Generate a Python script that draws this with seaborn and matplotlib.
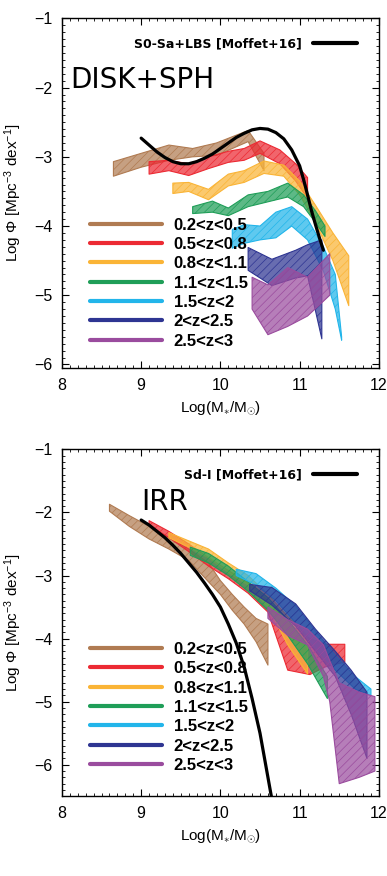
import matplotlib
matplotlib.use("Agg")
import matplotlib.pyplot as plt
from matplotlib.lines import Line2D
from matplotlib.ticker import MultipleLocator
from matplotlib.colors import to_rgba
import seaborn as sns
import pandas as pd

# Redshift bins and their colours
z_labels = ["0.2<z<0.5", "0.5<z<0.8", "0.8<z<1.1", "1.1<z<1.5",
            "1.5<z<2", "2<z<2.5", "2.5<z<3"]
z_colors = ["#b07b52", "#ec2a33", "#fab436", "#1f9e58",
            "#22b5ea", "#2e3592", "#9a4c9e"]

# ---- DISK+SPH panel: mass function bands (log M, lower, upper) ----
disk_m = [
    [8.65, 9.0, 9.35, 9.65, 9.95, 10.35, 10.55],
    [9.1, 9.35, 9.6, 9.85, 10.1, 10.3, 10.5, 10.75, 10.95, 11.1],
    [9.4, 9.6, 9.85, 10.1, 10.3, 10.55, 10.8, 11.0, 11.2, 11.42, 11.62],
    [9.65, 9.9, 10.1, 10.35, 10.6, 10.85, 11.05, 11.2, 11.32],
    [10.15, 10.3, 10.5, 10.7, 10.9, 11.1, 11.3, 11.45, 11.53],
    [10.35, 10.65, 10.95, 11.1, 11.28],
    [10.4, 10.6, 10.85, 11.1, 11.38],
]
disk_lo = [
    [-3.28, -3.15, -3.05, -3.0, -2.98, -2.78, -3.2],
    [-3.25, -3.2, -3.27, -3.17, -3.08, -3.05, -2.95, -3.1, -3.35, -3.6],
    [-3.53, -3.5, -3.62, -3.42, -3.37, -3.24, -3.28, -3.55, -3.95, -4.5, -5.15],
    [-3.82, -3.8, -3.85, -3.72, -3.65, -3.58, -3.72, -3.95, -4.15],
    [-4.32, -4.25, -4.2, -4.17, -4.0, -4.2, -4.65, -5.2, -5.65],
    [-4.64, -4.86, -4.75, -4.72, -5.63],
    [-5.2, -5.57, -5.45, -5.3, -5.0],
]
disk_hi = [
    [-3.07, -2.95, -2.83, -2.88, -2.8, -2.62, -2.95],
    [-3.07, -3.05, -3.1, -3.0, -2.92, -2.88, -2.77, -2.9, -3.1, -3.3],
    [-3.38, -3.37, -3.47, -3.25, -3.2, -3.06, -3.12, -3.35, -3.7, -4.1, -4.43],
    [-3.72, -3.64, -3.74, -3.55, -3.5, -3.38, -3.55, -3.78, -4.0],
    [-4.05, -3.98, -4.0, -3.8, -3.72, -3.9, -4.3, -4.7, -5.6],
    [-4.31, -4.48, -4.35, -4.27, -4.2],
    [-4.74, -4.85, -4.6, -4.74, -4.4],
]
# Moffet+16 S0-Sa+LBS curve
disk_ref_m = [9.0, 9.1, 9.2, 9.3, 9.4, 9.5, 9.6, 9.7, 9.8, 9.9, 10.0, 10.1,
              10.2, 10.3, 10.4, 10.5, 10.6, 10.7, 10.8, 10.9, 11.0, 11.05,
              11.1, 11.15, 11.2, 11.25, 11.3]
disk_ref_phi = [-2.73, -2.83, -2.93, -3.01, -3.07, -3.1, -3.1, -3.07, -3.02,
                -2.96, -2.88, -2.8, -2.72, -2.66, -2.61, -2.59, -2.6, -2.65,
                -2.74, -2.9, -3.13, -3.33, -3.55, -3.78, -3.98, -4.17, -4.35]

# ---- IRR panel ----
irr_m = [
    [8.6, 8.85, 9.1, 9.35, 9.6, 9.85, 10.0, 10.15, 10.3, 10.45, 10.6],
    [9.1, 9.35, 9.6, 9.85, 10.1, 10.35, 10.6, 10.85, 11.13, 11.32, 11.57],
    [9.35, 9.6, 9.85, 10.1, 10.35, 10.6, 10.85, 11.1],
    [9.62, 9.85, 10.1, 10.35, 10.6, 10.85, 11.1, 11.35],
    [10.2, 10.45, 10.7, 10.95, 11.2, 11.45, 11.7, 11.9],
    [10.37, 10.65, 10.95, 11.2, 11.45, 11.65, 11.85],
    [10.6, 10.85, 11.1, 11.3, 11.38, 11.5, 11.75, 11.95],
]
irr_lo = [
    [-1.98, -2.22, -2.42, -2.58, -2.76, -3.1, -3.3, -3.55, -3.77, -4.05, -4.42],
    [-2.2, -2.4, -2.62, -2.85, -3.05, -3.28, -3.58, -4.5, -4.57, -4.45, -4.37],
    [-2.4, -2.55, -2.72, -2.95, -3.15, -3.5, -4.1, -4.56],
    [-2.68, -2.8, -3.0, -3.25, -3.55, -3.95, -4.4, -4.95],
    [-3.0, -3.15, -3.4, -3.75, -4.15, -4.5, -4.8, -4.9],
    [-3.24, -3.47, -3.8, -4.2, -4.6, -5.2, -5.9],
    [-3.68, -3.95, -4.1, -4.6, -5.0, -6.3, -6.2, -6.1],
]
irr_hi = [
    [-1.87, -2.05, -2.22, -2.4, -2.58, -2.8, -3.08, -3.3, -3.5, -3.68, -3.77],
    [-2.13, -2.3, -2.5, -2.72, -2.92, -3.12, -3.4, -3.75, -4.0, -4.09, -4.09],
    [-2.32, -2.45, -2.58, -2.8, -3.0, -3.3, -3.65, -3.95],
    [-2.55, -2.65, -2.85, -3.1, -3.35, -3.7, -4.1, -4.6],
    [-2.9, -2.97, -3.2, -3.48, -3.88, -4.26, -4.6, -4.8],
    [-3.14, -3.19, -3.45, -3.85, -4.2, -4.5, -4.85],
    [-3.5, -3.7, -3.85, -4.1, -4.35, -4.7, -4.85, -4.92],
]
# Moffet+16 Sd-I curve
irr_ref_m = [9.0, 9.1, 9.2, 9.3, 9.4, 9.5, 9.6, 9.7, 9.8, 9.9, 10.0, 10.1,
             10.2, 10.3, 10.4, 10.5, 10.6, 10.65]
irr_ref_phi = [-2.12, -2.2, -2.3, -2.4, -2.52, -2.65, -2.8, -2.95, -3.12,
               -3.3, -3.5, -3.77, -4.07, -4.45, -4.95, -5.5, -6.2, -6.55]

sns.set_style("ticks")
plt.rcParams["font.family"] = ["Liberation Sans", "DejaVu Sans"]
plt.rcParams["hatch.linewidth"] = 0.5
plt.rcParams["mathtext.fontset"] = "custom"
plt.rcParams["mathtext.rm"] = "Liberation Sans"
plt.rcParams["mathtext.it"] = "Liberation Sans"
for key in ["text.color", "axes.labelcolor", "xtick.color", "ytick.color"]:
    plt.rcParams[key] = "black"


def draw_panel(ax, ms, los, his, ref_m, ref_phi, ref_label, title, title_xy,
               ylim, leg_top):
    # shaded bands, one per redshift bin
    for m, lo, hi, col in zip(ms, los, his, z_colors):
        ax.fill_between(m, lo, hi, facecolor=to_rgba(col, 0.72),
                        edgecolor=to_rgba(col, 1.0), hatch="////", linewidth=0.8)
    ref = pd.DataFrame({"m": ref_m, "phi": ref_phi})
    sns.lineplot(data=ref, x="m", y="phi", ax=ax, color="black", lw=2.3,
                 label=ref_label, zorder=5)
    ax.set_xlim(8, 12)
    ax.set_ylim(*ylim)
    ax.xaxis.set_major_locator(MultipleLocator(1))
    ax.xaxis.set_minor_locator(MultipleLocator(0.1))
    ax.yaxis.set_major_locator(MultipleLocator(1))
    ax.yaxis.set_minor_locator(MultipleLocator(0.1))
    ax.tick_params(which="both", direction="in", top=True, right=True,
                   labelsize=11.5, pad=7)
    ax.tick_params(which="major", length=5, width=0.8)
    ax.tick_params(which="minor", length=2.5, width=0.6)
    for s in ax.spines.values():
        s.set_linewidth(1.0)
        s.set_color("black")
    ax.set_xlabel(r"Log(M$_{\ast}$/M$_{\odot}$)", fontsize=11, labelpad=5)
    ax.set_ylabel(r"Log $\Phi$ [Mpc$^{-3}$ dex$^{-1}$]", fontsize=11, labelpad=7)
    ax.text(title_xy[0], title_xy[1], title, transform=ax.transAxes,
            fontsize=20, family="DejaVu Sans", ha="left", va="center")
    # reference curve legend (label first, line after)
    leg1 = ax.legend(loc="upper right", bbox_to_anchor=(0.93, 0.945),
                     frameon=False, markerfirst=False, handlelength=3.5,
                     handletextpad=0.9, borderpad=0, borderaxespad=0,
                     prop={"weight": "bold", "size": 9, "family": "DejaVu Sans"})
    for h in leg1.get_lines():
        h.set_linewidth(3)
    ax.add_artist(leg1)
    handles = [Line2D([], [], color=c, lw=3) for c in z_colors]
    ax.legend(handles, z_labels, loc="upper left", bbox_to_anchor=(0.09, leg_top),
              frameon=False, handlelength=4.3, handletextpad=0.7,
              labelspacing=0.26, borderpad=0, borderaxespad=0,
              prop={"weight": "bold", "size": 12})


fig, axes = plt.subplots(2, 1, figsize=(3.87, 8.76), dpi=100)
draw_panel(axes[0], disk_m, disk_lo, disk_hi, disk_ref_m, disk_ref_phi,
           "S0-Sa+LBS [Moffet+16]", "DISK+SPH", (0.025, 0.823), (-6.05, -1), 0.43)
draw_panel(axes[1], irr_m, irr_lo, irr_hi, irr_ref_m, irr_ref_phi,
           "Sd-I [Moffet+16]", "IRR", (0.25, 0.847), (-6.5, -1), 0.445)

# place the two panels exactly
axes[0].set_position([0.160, 0.580, 0.819, 0.399])
axes[1].set_position([0.160, 0.091, 0.819, 0.396])

fig.savefig("out.png", dpi=100)
